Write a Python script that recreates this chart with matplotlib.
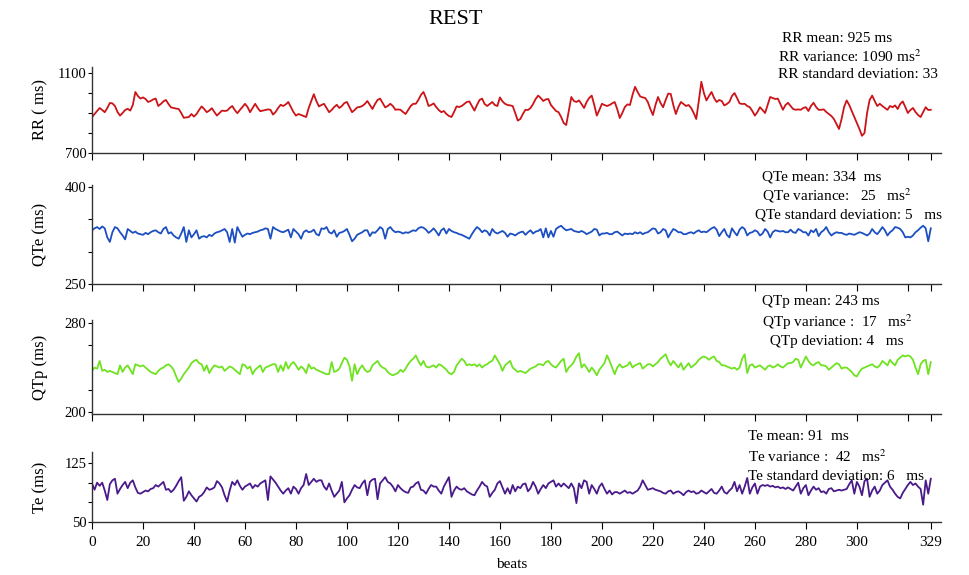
import numpy as np
import matplotlib
matplotlib.use("Agg")
import matplotlib.pyplot as plt

# values, one per beat (0..329)
rr = [
    879, 895, 910, 925, 915, 904, 925, 950, 948, 935,
    905, 887, 900, 915, 921, 912, 940, 1005, 985, 972,
    978, 970, 955, 960, 968, 972, 935, 945, 958, 965,
    945, 928, 925, 922, 920, 900, 876, 878, 880, 895,
    882, 895, 915, 933, 920, 904, 912, 924, 905, 887,
    900, 912, 910, 912, 925, 935, 915, 899, 915, 930,
    946, 930, 904, 925, 946, 925, 909, 912, 915, 918,
    916, 892, 905, 925, 941, 935, 943, 955, 930, 905,
    887, 895, 890, 885, 880, 925, 960, 994, 960, 933,
    940, 946, 925, 904, 915, 930, 941, 925, 935, 950,
    955, 930, 904, 915, 928, 930, 935, 945, 960, 940,
    920, 945, 965, 972, 950, 928, 935, 946, 935, 916,
    918, 916, 905, 895, 915, 935, 946, 946, 965, 990,
    1005, 975, 935, 940, 948, 930, 915, 904, 910, 895,
    885, 880, 905, 933, 930, 935, 945, 955, 958, 935,
    912, 940, 965, 972, 945, 935, 945, 955, 940, 935,
    978, 958, 946, 940, 938, 935, 900, 862, 870, 895,
    916, 915, 925, 945, 970, 987, 975, 960, 968, 970,
    940, 925, 910, 904, 880, 850, 840, 910, 980, 960,
    955, 963, 945, 925, 955, 975, 987, 940, 887, 915,
    946, 940, 935, 940, 948, 955, 920, 875, 900, 930,
    943, 940, 990, 1031, 1005, 983, 978, 975, 955, 920,
    890, 940, 980, 950, 929, 965, 997, 995, 940, 895,
    930, 955, 945, 935, 940, 925, 900, 870, 960, 1056,
    1000, 963, 985, 1005, 975, 955, 965, 960, 938, 945,
    955, 985, 1000, 975, 948, 945, 946, 935, 929, 910,
    887, 905, 929, 915, 900, 940, 980, 975, 970, 972,
    945, 916, 940, 951, 935, 920, 916, 918, 916, 925,
    929, 910, 935, 951, 930, 916, 916, 918, 905, 895,
    885, 870, 845, 820, 870, 930, 963, 940, 910, 880,
    850, 820, 786, 800, 900, 965, 987, 960, 935, 946,
    935, 925, 916, 935, 929, 938, 920, 945, 958, 930,
    900, 915, 925, 905, 890, 880, 905, 929, 915, 916,
]

qte = [
    333, 336, 338, 335, 339, 336, 322, 315, 330, 338,
    336, 330, 325, 319, 335, 332, 329, 331, 328, 327,
    326, 329, 327, 330, 332, 333, 330, 328, 335, 338,
    328, 330, 325, 322, 320, 328, 338, 315, 333, 322,
    327, 333, 320, 323, 324, 322, 326, 324, 328, 330,
    331, 333, 335, 330, 315, 335, 314, 338, 330, 323,
    326, 328, 327, 329, 330, 331, 333, 334, 336, 335,
    320, 338, 335, 333, 331, 330, 332, 334, 322, 335,
    331, 327, 320, 330, 333, 330, 331, 334, 327, 325,
    336, 335, 338, 330, 328, 333, 323, 329, 330, 332,
    335, 326, 316, 320, 326, 328, 330, 333, 333, 324,
    330, 329, 333, 338, 335, 320, 335, 338, 333, 330,
    331, 330, 328, 330, 329, 331, 333, 332, 336, 338,
    337, 334, 329, 332, 336, 331, 325, 333, 336, 328,
    335, 332, 330, 329, 327, 326, 324, 322, 320, 327,
    333, 338, 335, 330, 333, 331, 325, 335, 330, 328,
    330, 332, 329, 323, 328, 327, 325, 328, 330, 331,
    326, 330, 333, 328, 331, 332, 335, 322, 336, 322,
    332, 323, 335, 338, 340, 336, 333, 334, 335, 332,
    331, 330, 332, 330, 327, 329, 331, 335, 334, 325,
    328, 328, 329, 327, 327, 330, 331, 328, 325, 328,
    327, 328, 327, 330, 328, 330, 327, 329, 330, 333,
    336, 335, 328, 330, 335, 333, 322, 329, 335, 333,
    330, 330, 327, 327, 329, 330, 328, 331, 333, 330,
    331, 330, 333, 336, 338, 334, 324, 330, 335, 326,
    322, 336, 330, 325, 334, 338, 335, 325, 329, 330,
    333, 331, 325, 328, 335, 331, 322, 330, 333, 332,
    331, 332, 330, 330, 334, 330, 329, 335, 333, 330,
    330, 325, 333, 330, 335, 324, 330, 333, 338, 330,
    325, 328, 330, 329, 329, 327, 326, 328, 327, 326,
    328, 330, 329, 327, 325, 328, 335, 330, 327, 332,
    338, 333, 325, 330, 333, 338, 337, 335, 330, 322,
    323, 322, 325, 330, 333, 337, 340, 336, 316, 336,
]

qtp = [
    237, 240, 239, 246, 237, 238, 236, 237, 236, 235,
    234, 242, 236, 240, 242, 238, 234, 243, 242, 241,
    242, 240, 238, 236, 235, 234, 237, 239, 240, 242,
    243, 241, 238, 232, 227, 230, 234, 237, 240, 244,
    246, 247, 244, 243, 237, 242, 235, 239, 242, 241,
    240, 241, 237, 239, 241, 240, 238, 236, 234, 243,
    242, 239, 241, 234, 238, 240, 242, 236, 240, 241,
    242, 243, 243, 236, 242, 237, 245, 239, 243, 245,
    242, 238, 241, 239, 235, 243, 239, 240, 238, 237,
    236, 235, 234, 234, 245, 236, 237, 239, 244, 249,
    247, 241, 228, 243, 234, 239, 242, 238, 236, 237,
    242, 244, 246, 242, 240, 239, 236, 234, 233, 234,
    235, 238, 236, 239, 243, 246, 248, 251, 246, 242,
    246, 241, 240, 241, 242, 240, 243, 242, 240, 238,
    235, 234, 236, 242, 245, 248, 246, 242, 243, 242,
    243, 241, 243, 240, 242, 243, 245, 246, 251, 247,
    243, 237, 242, 244, 246, 240, 238, 236, 237, 236,
    235, 237, 239, 240, 241, 243, 243, 242, 245, 246,
    243, 241, 240, 243, 246, 248, 236, 240, 242, 245,
    250, 253, 240, 243, 240, 236, 240, 237, 233, 238,
    241, 244, 251, 246, 240, 234, 240, 243, 240, 241,
    242, 245, 240, 242, 243, 244, 239, 241, 243, 243,
    241, 243, 245, 248, 250, 252, 246, 242, 246, 243,
    240, 244, 238, 241, 244, 240, 242, 244, 247, 249,
    250, 249, 247, 249, 250, 246, 245, 242, 242, 241,
    240, 239, 240, 238, 240, 248, 252, 235, 242, 243,
    240, 241, 242, 240, 238, 241, 242, 240, 241, 243,
    241, 240, 242, 244, 244, 245, 248, 247, 240, 245,
    250, 246, 243, 242, 244, 245, 242, 242, 241, 238,
    240, 242, 244, 243, 239, 240, 240, 238, 236, 233,
    232, 236, 239, 240, 241, 242, 243, 241, 240, 242,
    246, 244, 242, 247, 244, 242, 247, 249, 251, 250,
    251, 250, 247, 240, 234, 243, 246, 247, 234, 245,
]

te = [
    99, 91, 100, 96, 100, 90, 78, 98, 103, 105,
    86, 92, 97, 101, 93, 100, 103, 94, 87, 86,
    88, 90, 89, 92, 93, 97, 95, 98, 101, 91,
    92, 88, 91, 96, 102, 107, 77, 82, 89, 84,
    80, 76, 82, 84, 88, 94, 91, 92, 94, 102,
    99, 94, 84, 76, 90, 101, 97, 103, 96, 91,
    95, 97, 99, 93, 97, 95, 99, 101, 103, 78,
    108, 104, 100, 95, 90, 86, 90, 93, 86, 95,
    92, 86, 93, 97, 111, 97, 101, 105, 101, 103,
    103, 95, 91, 99, 90, 82, 86, 90, 101, 75,
    80, 84, 91, 97, 94, 93, 99, 103, 84, 101,
    104, 105, 79, 99, 103, 107, 101, 99, 95, 89,
    97, 93, 90, 88, 87, 94, 95, 99, 101, 91,
    90, 86, 92, 97, 95, 95, 90, 86, 95, 101,
    107, 82, 90, 95, 92, 91, 93, 89, 87, 85,
    84, 90, 95, 101, 97, 95, 82, 87, 91, 99,
    102, 94, 86, 93, 86, 97, 89, 95, 93, 98,
    99, 89, 93, 101, 95, 86, 92, 97, 93, 99,
    101, 103, 95, 99, 95, 99, 96, 93, 99, 93,
    74, 99, 93, 103, 101, 86, 97, 92, 86, 95,
    99, 92, 86, 90, 85, 88, 88, 86, 88, 90,
    87, 88, 86, 88, 90, 95, 103, 97, 91, 92,
    93, 91, 90, 89, 87, 86, 89, 90, 86, 88,
    89, 87, 84, 88, 90, 88, 89, 86, 87, 90,
    88, 86, 89, 92, 87, 86, 90, 95, 88, 86,
    90, 93, 101, 89, 97, 86, 95, 106, 86, 94,
    99, 86, 95, 97, 96, 97, 95, 96, 94, 95,
    93, 94, 92, 94, 92, 90, 95, 100, 86, 93,
    97, 84, 90, 95, 91, 93, 88, 89, 86, 92,
    93, 89, 90, 91, 90, 91, 92, 98, 103, 86,
    101, 95, 84, 102, 105, 82, 90, 95, 86, 90,
    97, 100, 103, 95, 91, 86, 82, 80, 87, 92,
    97, 101, 97, 99, 95, 92, 72, 103, 86, 105,
]

ylabels = ["RR ( ms)", "QTe (ms)", "QTp (ms)", "Te (ms)"]
colors = ["#cc1418", "#1c4fc2", "#6fe321", "#4a1a8a"]
ylims = [(700, 1130), (250, 403), (198, 283), (50, 139)]
yticks = [[700, 800, 900, 1000, 1100], [250, 300, 350, 400],
          [200, 220, 260, 280], [50, 75, 100, 125]]
ylabeled = [[700, 1100], [250, 400], [200, 280], [50, 125]]

xticks = list(range(0, 321, 20)) + [329]
xticklabels = [str(t) if t not in (320,) else "" for t in xticks]

notes = [
    [(782, 38, "RR mean: 925 ms"),
     (778, 57, "RR variance: 1090 ms$^2$"),
     (778, 75, "RR standard deviation: 33")],
    [(762, 177, "QTe mean: 334  ms"),
     (762, 196, "QTe variance:   25   ms$^2$"),
     (755, 215, "QTe standard deviation: 5   ms")],
    [(762, 302, "QTp mean: 243 ms"),
     (762, 322, "QTp variance :  17   ms$^2$"),
     (766, 341, " QTp deviation: 4   ms")],
    [(748, 437, "Te mean: 91  ms"),
     (748, 457, "Te variance :  42   ms$^2$"),
     (748, 476, "Te standard deviation: 6   ms")],
]

W, H = 970, 575
plt.rcParams["font.family"] = ["Liberation Serif", "DejaVu Serif"]
plt.rcParams["mathtext.fontset"] = "stix"

fig = plt.figure(figsize=(W / 100, H / 100), dpi=100)

# axes boxes in pixels: (top, bottom)
boxes = [(67, 153), (185, 284), (320, 414), (452, 522)]
left_px, right_px = 92, 941

series = [rr, qte, qtp, te]
for i, vals in enumerate(series):
    top, bot = boxes[i]
    ax = fig.add_axes([left_px / W, 1 - bot / H, (right_px - left_px) / W, (bot - top) / H])
    x = np.arange(len(vals))
    ax.plot(x, vals, color=colors[i], lw=1.3)
    ax.set_xlim(0, 333)
    ax.set_ylim(*ylims[i])
    for s in ("top", "right"):
        ax.spines[s].set_visible(False)
    for s in ("left", "bottom"):
        ax.spines[s].set_color("#333333")
        ax.spines[s].set_linewidth(1.0)
    ax.set_yticks(yticks[i])
    ax.set_yticklabels([str(t) if t in ylabeled[i] else "" for t in yticks[i]])
    ax.set_xticks(xticks)
    if i == 3:
        ax.set_xticklabels(xticklabels)
    else:
        ax.set_xticklabels([])
    ax.tick_params(axis="y", direction="out", length=3, width=0.8, pad=1, labelsize=10.5)
    ax.tick_params(axis="x", direction="out", length=5, width=0.8, pad=5, labelsize=11)

    ycen = (top + bot) / 2
    fig.text(40 / W, 1 - ycen / H, ylabels[i], rotation=90, ha="center", va="center", fontsize=12)
    for (px, py, txt) in notes[i]:
        fig.text(px / W, 1 - py / H, txt, ha="left", va="center", fontsize=11)

fig.text(456 / W, 1 - 20 / H, "REST", ha="center", va="center", fontsize=16)
fig.text(512 / W, 1 - 565 / H, "beats", ha="center", va="center", fontsize=11)

fig.savefig("out.png", dpi=100)
